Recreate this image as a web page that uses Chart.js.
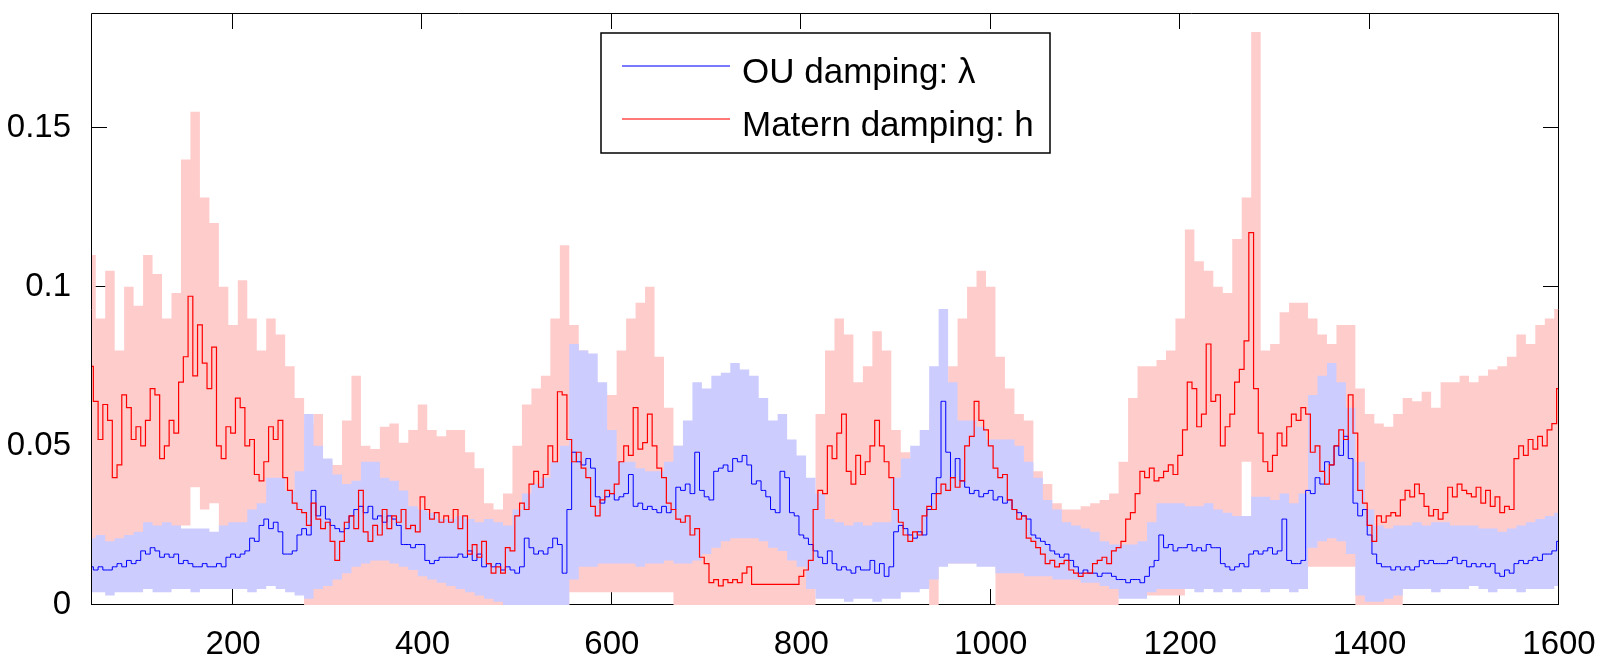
<!DOCTYPE html>
<html lang="en">
<head>
    <meta charset="UTF-8">
    <script src="https://cdn.jsdelivr.net/npm/chart.js@4.4.1/dist/chart.umd.min.js"></script>
    <title>OU vs Matern damping</title>
    <style>
        body { margin: 0; background: #fff; }
        canvas { display: block; }
    </style>
</head>
<body>
    <canvas id="dampingChart" width="1614" height="656"></canvas>
    <script>
        // band readings, one every 10 steps
        const steps = [
            50, 60, 70, 80, 90, 100, 110, 120, 130, 140,
            150, 160, 170, 180, 190, 200, 210, 220, 230, 240,
            250, 260, 270, 280, 290, 300, 310, 320, 330, 340,
            350, 360, 370, 380, 390, 400, 410, 420, 430, 440,
            450, 460, 470, 480, 490, 500, 510, 520, 530, 540,
            550, 560, 570, 580, 590, 600, 610, 620, 630, 640,
            650, 660, 670, 680, 690, 700, 710, 720, 730, 740,
            750, 760, 770, 780, 790, 800, 810, 820, 830, 840,
            850, 860, 870, 880, 890, 900, 910, 920, 930, 940,
            950, 960, 970, 980, 990, 1000, 1010, 1020, 1030, 1040,
            1050, 1060, 1070, 1080, 1090, 1100, 1110, 1120, 1130, 1140,
            1150, 1160, 1170, 1180, 1190, 1200, 1210, 1220, 1230, 1240,
            1250, 1260, 1270, 1280, 1290, 1300, 1310, 1320, 1330, 1340,
            1350, 1360, 1370, 1380, 1390, 1400, 1410, 1420, 1430, 1440,
            1450, 1460, 1470, 1480, 1490, 1500, 1510, 1520, 1530, 1540,
            1550, 1560, 1570, 1580, 1590, 1600
        ];

        // line readings, one every 5 steps
        const lineSteps = [
            50, 55, 60, 65, 70, 75, 80, 85, 90, 95, 100, 105, 110, 115, 120, 125, 130, 135, 140, 145,
            150, 155, 160, 165, 170, 175, 180, 185, 190, 195, 200, 205, 210, 215, 220, 225, 230, 235, 240, 245,
            250, 255, 260, 265, 270, 275, 280, 285, 290, 295, 300, 305, 310, 315, 320, 325, 330, 335, 340, 345,
            350, 355, 360, 365, 370, 375, 380, 385, 390, 395, 400, 405, 410, 415, 420, 425, 430, 435, 440, 445,
            450, 455, 460, 465, 470, 475, 480, 485, 490, 495, 500, 505, 510, 515, 520, 525, 530, 535, 540, 545,
            550, 555, 560, 565, 570, 575, 580, 585, 590, 595, 600, 605, 610, 615, 620, 625, 630, 635, 640, 645,
            650, 655, 660, 665, 670, 675, 680, 685, 690, 695, 700, 705, 710, 715, 720, 725, 730, 735, 740, 745,
            750, 755, 760, 765, 770, 775, 780, 785, 790, 795, 800, 805, 810, 815, 820, 825, 830, 835, 840, 845,
            850, 855, 860, 865, 870, 875, 880, 885, 890, 895, 900, 905, 910, 915, 920, 925, 930, 935, 940, 945,
            950, 955, 960, 965, 970, 975, 980, 985, 990, 995, 1000, 1005, 1010, 1015, 1020, 1025, 1030, 1035, 1040, 1045,
            1050, 1055, 1060, 1065, 1070, 1075, 1080, 1085, 1090, 1095, 1100, 1105, 1110, 1115, 1120, 1125, 1130, 1135, 1140, 1145,
            1150, 1155, 1160, 1165, 1170, 1175, 1180, 1185, 1190, 1195, 1200, 1205, 1210, 1215, 1220, 1225, 1230, 1235, 1240, 1245,
            1250, 1255, 1260, 1265, 1270, 1275, 1280, 1285, 1290, 1295, 1300, 1305, 1310, 1315, 1320, 1325, 1330, 1335, 1340, 1345,
            1350, 1355, 1360, 1365, 1370, 1375, 1380, 1385, 1390, 1395, 1400, 1405, 1410, 1415, 1420, 1425, 1430, 1435, 1440, 1445,
            1450, 1455, 1460, 1465, 1470, 1475, 1480, 1485, 1490, 1495, 1500, 1505, 1510, 1515, 1520, 1525, 1530, 1535, 1540, 1545,
            1550, 1555, 1560, 1565, 1570, 1575, 1580, 1585, 1590, 1595, 1600
        ];

        // OU damping lambda (blue line)
        const ouLambda = [
            0.012, 0.011, 0.012, 0.011, 0.011, 0.012, 0.013, 0.012, 0.014, 0.013, 0.014, 0.017, 0.016, 0.018, 0.017, 0.015, 0.016, 0.015, 0.016, 0.013,
            0.014, 0.013, 0.012, 0.012, 0.013, 0.012, 0.012, 0.013, 0.012, 0.015, 0.016, 0.015, 0.016, 0.017, 0.021, 0.020, 0.025, 0.027, 0.024, 0.026,
            0.023, 0.016, 0.016, 0.017, 0.022, 0.024, 0.022, 0.036, 0.028, 0.031, 0.027, 0.025, 0.024, 0.023, 0.024, 0.028, 0.030, 0.031, 0.029, 0.031,
            0.027, 0.028, 0.026, 0.028, 0.027, 0.025, 0.019, 0.019, 0.018, 0.019, 0.019, 0.014, 0.013, 0.014, 0.015, 0.015, 0.015, 0.015, 0.016, 0.015,
            0.017, 0.014, 0.016, 0.012, 0.013, 0.012, 0.013, 0.011, 0.012, 0.011, 0.010, 0.012, 0.021, 0.018, 0.016, 0.017, 0.016, 0.018, 0.021, 0.019,
            0.010, 0.030, 0.048, 0.045, 0.044, 0.046, 0.043, 0.034, 0.032, 0.034, 0.035, 0.033, 0.034, 0.035, 0.041, 0.031, 0.032, 0.030, 0.031, 0.030,
            0.029, 0.031, 0.029, 0.030, 0.037, 0.036, 0.038, 0.035, 0.048, 0.036, 0.034, 0.033, 0.042, 0.043, 0.044, 0.042, 0.046, 0.045, 0.047, 0.044,
            0.038, 0.039, 0.036, 0.034, 0.030, 0.029, 0.042, 0.040, 0.029, 0.028, 0.022, 0.021, 0.019, 0.017, 0.015, 0.013, 0.017, 0.013, 0.011, 0.012,
            0.011, 0.010, 0.012, 0.011, 0.011, 0.014, 0.010, 0.013, 0.009, 0.012, 0.023, 0.025, 0.024, 0.022, 0.021, 0.023, 0.022, 0.030, 0.035, 0.040,
            0.064, 0.048, 0.040, 0.046, 0.039, 0.037, 0.035, 0.036, 0.034, 0.035, 0.036, 0.033, 0.034, 0.032, 0.033, 0.030, 0.029, 0.028, 0.027, 0.022,
            0.021, 0.020, 0.019, 0.017, 0.016, 0.015, 0.016, 0.014, 0.012, 0.010, 0.011, 0.010, 0.010, 0.009, 0.010, 0.010, 0.009, 0.008, 0.008, 0.007,
            0.008, 0.008, 0.007, 0.009, 0.012, 0.014, 0.022, 0.018, 0.019, 0.017, 0.018, 0.018, 0.019, 0.017, 0.018, 0.017, 0.019, 0.018, 0.018, 0.013,
            0.012, 0.011, 0.012, 0.013, 0.012, 0.016, 0.017, 0.016, 0.017, 0.018, 0.016, 0.017, 0.027, 0.014, 0.013, 0.013, 0.014, 0.036, 0.035, 0.040,
            0.038, 0.045, 0.044, 0.050, 0.047, 0.053, 0.046, 0.032, 0.028, 0.030, 0.022, 0.016, 0.013, 0.012, 0.012, 0.011, 0.012, 0.011, 0.012, 0.011,
            0.012, 0.014, 0.013, 0.014, 0.013, 0.013, 0.013, 0.014, 0.015, 0.013, 0.014, 0.012, 0.013, 0.012, 0.013, 0.012, 0.013, 0.010, 0.009, 0.011,
            0.010, 0.013, 0.014, 0.013, 0.014, 0.015, 0.014, 0.016, 0.016, 0.017, 0.020
        ];
        const ouHigh = [
            0.021, 0.022, 0.020, 0.021, 0.022, 0.023, 0.026, 0.025, 0.026, 0.025,
            0.024, 0.024, 0.024, 0.023, 0.025, 0.026, 0.026, 0.030, 0.032, 0.040,
            0.040, 0.036, 0.042, 0.060, 0.050, 0.046, 0.041, 0.038, 0.039, 0.045,
            0.045, 0.040, 0.039, 0.036, 0.031, 0.030, 0.029, 0.027, 0.027, 0.028,
            0.027, 0.026, 0.027, 0.026, 0.025, 0.030, 0.035, 0.038, 0.040, 0.045,
            0.050, 0.082, 0.080, 0.079, 0.070, 0.055, 0.045, 0.045, 0.043, 0.042,
            0.042, 0.045, 0.050, 0.058, 0.070, 0.068, 0.072, 0.073, 0.076, 0.074,
            0.072, 0.065, 0.058, 0.060, 0.052, 0.047, 0.040, 0.035, 0.027, 0.026,
            0.025, 0.026, 0.025, 0.026, 0.026, 0.040, 0.046, 0.050, 0.055, 0.075,
            0.093, 0.070, 0.058, 0.058, 0.056, 0.052, 0.052, 0.052, 0.050, 0.045,
            0.040, 0.033, 0.030, 0.026, 0.025, 0.024, 0.023, 0.020, 0.019, 0.019,
            0.019, 0.020, 0.026, 0.032, 0.032, 0.032, 0.031, 0.031, 0.032, 0.030,
            0.029, 0.028, 0.028, 0.034, 0.034, 0.033, 0.035, 0.032, 0.035, 0.066,
            0.072, 0.076, 0.070, 0.062, 0.045, 0.030, 0.025, 0.024, 0.025, 0.025,
            0.026, 0.025, 0.026, 0.026, 0.025, 0.025, 0.025, 0.024, 0.024, 0.023,
            0.024, 0.025, 0.026, 0.027, 0.028, 0.029
        ];
        const ouLow = [
            0.004, 0.004, 0.003, 0.004, 0.004, 0.004, 0.005, 0.004, 0.004, 0.005,
            0.005, 0.004, 0.005, 0.005, 0.005, 0.005, 0.005, 0.004, 0.005, 0.006,
            0.005, 0.004, 0.003, 0.002, 0.005, 0.006, 0.008, 0.010, 0.012, 0.013,
            0.014, 0.014, 0.013, 0.012, 0.011, 0.009, 0.008, 0.007, 0.006, 0.005,
            0.004, 0.003, 0.002, 0.001, 0, 0, 0, 0, 0, 0,
            0, 0.008, 0.012, 0.012, 0.013, 0.013, 0.013, 0.013, 0.012, 0.013,
            0.013, 0.014, 0.013, 0.013, 0.014, 0.016, 0.018, 0.020, 0.021, 0.021,
            0.021, 0.020, 0.018, 0.017, 0.014, 0.012, 0.005, 0.002, 0.002, 0.002,
            0.001, 0.002, 0.002, 0.001, 0.002, 0.002, 0.004, 0.004, 0.005, 0.008,
            0.012, 0.013, 0.013, 0.013, 0.012, 0.012, 0.010, 0.010, 0.010, 0.009,
            0.009, 0.009, 0.008, 0.008, 0.008, 0.007, 0.007, 0.006, 0.005, 0.002,
            0.002, 0.002, 0.004, 0.005, 0.005, 0.005, 0.005, 0.004, 0.005, 0.004,
            0.005, 0.004, 0.005, 0.005, 0.004, 0.005, 0.005, 0.004, 0.005, 0.018,
            0.020, 0.021, 0.020, 0.016, 0.003, 0.001, 0.001, 0.002, 0.003, 0.005,
            0.005, 0.005, 0.004, 0.005, 0.005, 0.005, 0.006, 0.005, 0.004, 0.005,
            0.005, 0.004, 0.005, 0.005, 0.005, 0.006
        ];

        // Matern damping h (red line)
        const maternH = [
            0.075, 0.064, 0.052, 0.063, 0.058, 0.040, 0.044, 0.066, 0.062, 0.052, 0.056, 0.050, 0.058, 0.068, 0.066, 0.046, 0.050, 0.058, 0.054, 0.070,
            0.078, 0.097, 0.072, 0.088, 0.076, 0.068, 0.081, 0.050, 0.046, 0.056, 0.054, 0.065, 0.062, 0.050, 0.052, 0.041, 0.039, 0.045, 0.056, 0.052,
            0.058, 0.040, 0.036, 0.032, 0.030, 0.029, 0.025, 0.032, 0.027, 0.024, 0.026, 0.020, 0.014, 0.020, 0.026, 0.028, 0.024, 0.036, 0.023, 0.020,
            0.025, 0.022, 0.030, 0.024, 0.028, 0.026, 0.030, 0.024, 0.025, 0.023, 0.034, 0.030, 0.027, 0.029, 0.026, 0.028, 0.026, 0.030, 0.024, 0.028,
            0.016, 0.019, 0.015, 0.020, 0.013, 0.010, 0.012, 0.010, 0.018, 0.017, 0.028, 0.032, 0.030, 0.038, 0.042, 0.037, 0.041, 0.050, 0.045, 0.067,
            0.066, 0.052, 0.045, 0.048, 0.043, 0.040, 0.031, 0.028, 0.033, 0.036, 0.035, 0.038, 0.045, 0.050, 0.047, 0.062, 0.049, 0.051, 0.060, 0.050,
            0.043, 0.040, 0.032, 0.030, 0.027, 0.026, 0.028, 0.022, 0.024, 0.015, 0.013, 0.007, 0.008, 0.006, 0.008, 0.007, 0.008, 0.007, 0.010, 0.012,
            0.0065, 0.0065, 0.0065, 0.0065, 0.0065, 0.0065, 0.0065, 0.0065, 0.0065, 0.0065, 0.009, 0.011, 0.014, 0.030, 0.036, 0.035, 0.050, 0.046, 0.054, 0.060,
            0.042, 0.038, 0.047, 0.041, 0.045, 0.050, 0.058, 0.050, 0.045, 0.040, 0.030, 0.026, 0.022, 0.020, 0.023, 0.022, 0.028, 0.031, 0.030, 0.035,
            0.038, 0.036, 0.040, 0.037, 0.039, 0.050, 0.053, 0.064, 0.058, 0.055, 0.050, 0.043, 0.040, 0.041, 0.033, 0.030, 0.027, 0.028, 0.021, 0.020,
            0.018, 0.016, 0.013, 0.014, 0.012, 0.013, 0.014, 0.011, 0.010, 0.009, 0.010, 0.010, 0.013, 0.014, 0.015, 0.013, 0.017, 0.018, 0.020, 0.027,
            0.029, 0.035, 0.042, 0.040, 0.043, 0.039, 0.040, 0.042, 0.044, 0.041, 0.047, 0.055, 0.070, 0.068, 0.056, 0.060, 0.082, 0.064, 0.066, 0.050,
            0.056, 0.060, 0.070, 0.074, 0.083, 0.117, 0.068, 0.054, 0.045, 0.042, 0.047, 0.054, 0.050, 0.056, 0.060, 0.058, 0.062, 0.060, 0.048, 0.050,
            0.042, 0.038, 0.044, 0.050, 0.055, 0.052, 0.066, 0.054, 0.036, 0.032, 0.025, 0.020, 0.028, 0.026, 0.028, 0.029, 0.028, 0.033, 0.036, 0.034,
            0.038, 0.035, 0.031, 0.028, 0.030, 0.027, 0.029, 0.037, 0.034, 0.038, 0.036, 0.035, 0.034, 0.037, 0.032, 0.036, 0.031, 0.034, 0.029, 0.031,
            0.030, 0.046, 0.050, 0.047, 0.052, 0.049, 0.053, 0.050, 0.055, 0.057, 0.068
        ];
        const maternHigh = [
            0.110, 0.090, 0.105, 0.080, 0.100, 0.094, 0.110, 0.104, 0.090, 0.098,
            0.140, 0.155, 0.128, 0.120, 0.100, 0.088, 0.102, 0.090, 0.080, 0.090,
            0.085, 0.075, 0.065, 0.057, 0.060, 0.045, 0.044, 0.058, 0.072, 0.050,
            0.049, 0.056, 0.057, 0.051, 0.055, 0.063, 0.055, 0.053, 0.055, 0.055,
            0.048, 0.043, 0.032, 0.030, 0.035, 0.050, 0.063, 0.068, 0.072, 0.090,
            0.113, 0.088, 0.080, 0.070, 0.067, 0.066, 0.080, 0.090, 0.095, 0.100,
            0.078, 0.062, 0.050, 0.040, 0.030, 0.024, 0.024, 0.024, 0.024, 0.024,
            0.024, 0.024, 0.024, 0.024, 0.024, 0.024, 0.024, 0.060, 0.080, 0.090,
            0.085, 0.070, 0.075, 0.086, 0.080, 0.055, 0.048, 0.046, 0.050, 0.060,
            0.070, 0.075, 0.090, 0.100, 0.105, 0.100, 0.078, 0.068, 0.060, 0.058,
            0.042, 0.038, 0.032, 0.030, 0.030, 0.031, 0.032, 0.033, 0.035, 0.045,
            0.065, 0.075, 0.075, 0.077, 0.080, 0.090, 0.118, 0.108, 0.105, 0.100,
            0.098, 0.115, 0.128, 0.180, 0.080, 0.082, 0.092, 0.095, 0.095, 0.090,
            0.085, 0.082, 0.088, 0.088, 0.068, 0.060, 0.057, 0.056, 0.060, 0.065,
            0.064, 0.067, 0.062, 0.070, 0.070, 0.072, 0.070, 0.072, 0.074, 0.075,
            0.078, 0.085, 0.082, 0.088, 0.090, 0.093
        ];
        const maternLow = [
            0.018, 0.018, 0.018, 0.018, 0.018, 0.018, 0.018, 0.018, 0.018, 0.018,
            0.025, 0.037, 0.030, 0.032, 0.020, 0.020, 0.020, 0.020, 0.020, 0.020,
            0.020, 0.020, 0.010, 0, 0, 0, 0, 0, 0, 0,
            0, 0, 0, 0, 0, 0, 0, 0, 0, 0,
            0, 0, 0, 0, 0, 0, 0, 0, 0, 0,
            0, 0.004, 0.004, 0.004, 0.004, 0.004, 0.004, 0.004, 0.004, 0.004,
            0.004, 0.004, 0, 0, 0, 0, 0, 0, 0, 0,
            0, 0, 0, 0, 0, 0, 0, 0.006, 0.006, 0.006,
            0.006, 0.006, 0.006, 0.006, 0.006, 0.006, 0.006, 0.006, 0.006, 0,
            0.013, 0.013, 0.013, 0.013, 0.013, 0.013, 0, 0, 0, 0,
            0, 0, 0, 0, 0, 0, 0, 0, 0, 0.003,
            0.003, 0.003, 0.003, 0.003, 0.003, 0.003, 0.020, 0.020, 0.020, 0.020,
            0.020, 0.020, 0.045, 0.025, 0.025, 0.025, 0.025, 0.025, 0.025, 0.012,
            0.012, 0.012, 0.012, 0.012, 0, 0, 0, 0, 0, 0.010,
            0.010, 0.010, 0.010, 0.010, 0.010, 0.010, 0.010, 0.010, 0.010, 0.010,
            0.010, 0.010, 0.010, 0.010, 0.010, 0.010
        ];

        const xTicks = [200, 400, 600, 800, 1000, 1200, 1400, 1600];
        const yTicks = [0, 0.05, 0.1, 0.15];
        const yTickLabels = ["0", "0.05", "0.1", "0.15"];
        const legendLabels = ["OU damping: \u03bb", "Matern damping: h"];

        const pts = (xs, vals) => vals.map((v, i) => ({ x: xs[i], y: v }));
        const fontFamily = "'Liberation Sans', Arial, sans-serif";
        const tick = 16;

        // box and tick marks sit under the data, like the matlab figure
        const frame = {
            id: 'frame',
            beforeDatasetsDraw(chart) {
                const { ctx, chartArea: a, scales: { x, y } } = chart;
                ctx.save();
                ctx.strokeStyle = '#000';
                ctx.lineWidth = 1;
                ctx.beginPath();
                ctx.moveTo(a.left, a.bottom - 0.5);
                ctx.lineTo(a.right, a.bottom - 0.5);
                xTicks.forEach(v => {
                    const px = Math.round(x.getPixelForValue(v)) - 0.5;
                    ctx.moveTo(px, a.bottom);
                    ctx.lineTo(px, a.bottom - tick);
                    ctx.moveTo(px, a.top);
                    ctx.lineTo(px, a.top + tick);
                });
                yTicks.forEach(v => {
                    const py = Math.round(y.getPixelForValue(v)) - 0.5;
                    ctx.moveTo(a.left, py);
                    ctx.lineTo(a.left + tick, py);
                    ctx.moveTo(a.right, py);
                    ctx.lineTo(a.right - tick, py);
                });
                ctx.stroke();
                ctx.restore();
            },
            afterDraw(chart) {
                const { ctx, chartArea: a } = chart;
                ctx.save();
                ctx.strokeStyle = '#000';
                ctx.lineWidth = 1;
                ctx.beginPath();
                ctx.moveTo(a.left + 0.5, a.bottom);
                ctx.lineTo(a.left + 0.5, a.top + 0.5);
                ctx.lineTo(a.right - 0.5, a.top + 0.5);
                ctx.lineTo(a.right - 0.5, a.bottom);
                ctx.stroke();

                // legend box
                const bx = 601, by = 33, bw = 449, bh = 120;
                ctx.fillStyle = '#fff';
                ctx.fillRect(bx, by, bw, bh);
                ctx.lineWidth = 1.5;
                ctx.strokeRect(bx, by, bw, bh);
                const rows = [
                    { y: 66, color: '#4d4dff', text: legendLabels[0], base: 83 },
                    { y: 119, color: '#ff4d4d', text: legendLabels[1], base: 136 }
                ];
                ctx.font = '35px ' + fontFamily;
                ctx.textBaseline = 'alphabetic';
                rows.forEach(r => {
                    ctx.strokeStyle = r.color;
                    ctx.lineWidth = 1.5;
                    ctx.beginPath();
                    ctx.moveTo(622, r.y);
                    ctx.lineTo(730, r.y);
                    ctx.stroke();
                    ctx.fillStyle = '#000';
                    ctx.fillText(r.text, 742, r.base);
                });
                ctx.restore();
            }
        };

        const band = (data, fill, color, order) => ({
            data: pts(steps, data),
            fill: fill,
            backgroundColor: color,
            borderColor: 'rgba(0,0,0,0)',
            borderWidth: 0,
            pointRadius: 0,
            stepped: 'middle',
            order: order
        });

        new Chart(document.getElementById('dampingChart'), {
            type: 'line',
            data: {
                datasets: [
                    band(maternHigh, '+1', '#ffcccc', 6),
                    band(maternLow, false, 'rgba(0,0,0,0)', 5),
                    band(ouHigh, '+1', '#ccccff', 4),
                    band(ouLow, false, 'rgba(0,0,0,0)', 3),
                    {
                        data: pts(lineSteps, ouLambda),
                        borderColor: '#0000ff',
                        borderWidth: 1,
                        pointRadius: 0,
                        fill: false,
                        stepped: 'middle',
                        order: 2
                    },
                    {
                        data: pts(lineSteps, maternH),
                        borderColor: '#ff0000',
                        borderWidth: 1.2,
                        pointRadius: 0,
                        fill: false,
                        stepped: 'middle',
                        order: 1
                    }
                ]
            },
            options: {
                responsive: false,
                animation: false,
                layout: { padding: { top: 13, right: 55, left: 0, bottom: 0 } },
                plugins: {
                    legend: { display: false },
                    tooltip: { enabled: false },
                    filler: { propagate: false }
                },
                scales: {
                    x: {
                        type: 'linear',
                        min: 50,
                        max: 1600,
                        afterBuildTicks: s => { s.ticks = xTicks.map(v => ({ value: v })); },
                        afterFit: s => { s.height = 51; s.paddingLeft = 0; s.paddingRight = 0; },
                        grid: { display: false },
                        border: { display: false },
                        ticks: {
                            color: '#000',
                            font: { family: fontFamily, size: 33 },
                            padding: 12,
                            maxRotation: 0,
                            autoSkip: false,
                            callback: v => String(v)
                        }
                    },
                    y: {
                        min: 0,
                        max: 0.186,
                        afterBuildTicks: s => { s.ticks = yTicks.map(v => ({ value: v })); },
                        afterFit: s => { s.width = 91; s.paddingTop = 0; s.paddingBottom = 0; },
                        grid: { display: false },
                        border: { display: false },
                        ticks: {
                            color: '#000',
                            font: { family: fontFamily, size: 33 },
                            padding: 12,
                            autoSkip: false,
                            callback: (v, i) => yTickLabels[i]
                        }
                    }
                }
            },
            plugins: [frame]
        });
    </script>
</body>
</html>
